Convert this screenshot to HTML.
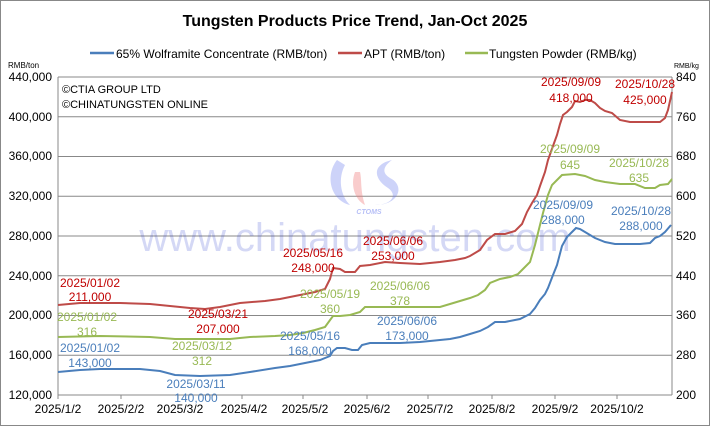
<!DOCTYPE html>
<html><head><meta charset="utf-8"><style>
body{margin:0;background:#fff}
svg{display:block}
text{font-family:"Liberation Sans",sans-serif}
</style></head><body>
<svg width="710" height="426" viewBox="0 0 710 426" xmlns="http://www.w3.org/2000/svg">
<rect x="0.5" y="0.5" width="709" height="425" fill="#fff" stroke="#888"/>
<text x="355" y="26" text-anchor="middle" font-size="16" font-weight="bold">Tungsten Products Price Trend, Jan-Oct 2025</text>
<line x1="90" y1="53" x2="114" y2="53" stroke="#4a7ebb" stroke-width="2.5"/>
<text x="116" y="58" font-size="12">65% Wolframite Concentrate (RMB/ton)</text>
<line x1="338" y1="53" x2="362" y2="53" stroke="#be4b48" stroke-width="2.5"/>
<text x="364" y="58" font-size="12">APT (RMB/ton)</text>
<line x1="465" y1="53" x2="488" y2="53" stroke="#98b954" stroke-width="2.5"/>
<text x="489" y="58" font-size="12">Tungsten Powder (RMB/kg)</text>
<text x="8" y="68" font-size="8" font-family="Liberation Mono">RMB/ton</text>
<text x="674" y="68" font-size="7" font-family="Liberation Mono">RMB/kg</text>
<g stroke="#888" stroke-width="1">
<line x1="58" y1="77" x2="672" y2="77"/><line x1="58" y1="116.7" x2="672" y2="116.7"/>
<line x1="58" y1="156.5" x2="672" y2="156.5"/><line x1="58" y1="196.2" x2="672" y2="196.2"/>
<line x1="58" y1="236" x2="672" y2="236"/><line x1="58" y1="275.7" x2="672" y2="275.7"/>
<line x1="58" y1="315.5" x2="672" y2="315.5"/><line x1="58" y1="355.2" x2="672" y2="355.2"/>
<line x1="58" y1="395" x2="672" y2="395"/>
<line x1="58" y1="77" x2="58" y2="395"/><line x1="672" y1="77" x2="672" y2="395"/>
</g>
<g stroke="#888"><line x1="121" y1="395" x2="121" y2="399"/><line x1="178" y1="395" x2="178" y2="399"/><line x1="242" y1="395" x2="242" y2="399"/><line x1="303" y1="395" x2="303" y2="399"/><line x1="367" y1="395" x2="367" y2="399"/><line x1="428" y1="395" x2="428" y2="399"/><line x1="492" y1="395" x2="492" y2="399"/><line x1="555" y1="395" x2="555" y2="399"/><line x1="617" y1="395" x2="617" y2="399"/><line x1="58" y1="395" x2="58" y2="399"/></g>
<g font-size="12" text-anchor="end">
<text x="52" y="81">440,000</text><text x="52" y="121">400,000</text><text x="52" y="160">360,000</text>
<text x="52" y="200">320,000</text><text x="52" y="240">280,000</text><text x="52" y="280">240,000</text>
<text x="52" y="319">200,000</text><text x="52" y="359">160,000</text><text x="52" y="399">120,000</text>
</g>
<g font-size="12">
<text x="676" y="81">840</text><text x="676" y="121">760</text><text x="676" y="160">680</text>
<text x="676" y="200">600</text><text x="676" y="240">520</text><text x="676" y="280">440</text>
<text x="676" y="319">360</text><text x="676" y="359">280</text><text x="676" y="399">200</text>
</g>
<g font-size="12" text-anchor="middle">
<text x="58" y="413">2025/1/2</text><text x="121" y="413">2025/2/2</text><text x="180" y="413">2025/3/2</text>
<text x="244" y="413">2025/4/2</text><text x="305" y="413">2025/5/2</text><text x="367" y="413">2025/6/2</text>
<text x="430" y="413">2025/7/2</text><text x="492" y="413">2025/8/2</text><text x="555" y="413">2025/9/2</text>
<text x="617" y="413">2025/10/2</text>
</g>
<text x="62" y="93" font-size="11">©CTIA GROUP LTD</text>
<text x="62" y="108" font-size="11">©CHINATUNGSTEN ONLINE</text>
<text x="355" y="251" text-anchor="middle" font-size="40" font-family="Liberation Serif" fill="#3040d0" opacity="0.2">www.chinatungsten.com</text>
<path d="M337 160 C325 175 330 200 350 205 C340 195 338 178 345 165Z" fill="#7080ee" opacity="0.35"/>
<path d="M355 172 C350 185 355 200 365 205 C360 190 362 180 360 172Z" fill="#f08080" opacity="0.4"/>
<path d="M392 160 C370 165 375 180 388 188 C398 195 392 205 375 205 C400 205 405 185 390 178 C380 172 385 165 392 160Z" fill="#7080ee" opacity="0.35"/>
<text x="369" y="214" text-anchor="middle" font-size="7" font-weight="bold" font-style="italic" fill="#7080ee" opacity="0.5">CTOMS</text>
<polyline fill="none" stroke="#4a7ebb" stroke-width="2" points="58,372 80,370 100,369 140,369 160,371 175,375 200,376 230,375 250,372 275,368 290,366 300,364 310,362 320,360 330,356 333,351 337,348 345,348 352,350 358,350 362,345 370,343 400,343 420,342 440,340 450,339 460,337 470,334 480,331 488,327 495,322 505,322 520,319 530,314 535,308 540,300 545,294 548,288 553,275 557,265 562,246 567,237 572,232 576,228 580,229 585,232 595,238 605,242 615,244 640,244 650,243 655,238 660,236 665,232 671,225"/>
<polyline fill="none" stroke="#be4b48" stroke-width="2" points="58,305 80,303 120,303 150,304 170,306 190,308 205,309 220,307 240,303 265,301 280,299 295,296 305,294 315,292 325,289 330,279 333,268 340,269 345,272 355,272 360,266 370,265 385,262 400,263 420,264 440,262 455,260 465,258 470,256 480,250 487,240 495,234 505,234 515,231 522,224 527,212 532,203 537,195 540,186 545,172 548,160 553,146 557,135 560,124 563,115 567,112 572,107 575,101 580,102 585,100 590,100 595,103 600,108 605,111 612,113 620,120 630,122 660,122 665,118 668,110 672,92"/>
<polyline fill="none" stroke="#98b954" stroke-width="2" points="58,337 100,336 150,337 175,339 200,339 230,339 250,337 275,336 290,335 303,333 315,330 325,327 333,316 340,316 350,315 360,312 365,307 400,307 440,307 450,304 460,301 470,298 478,295 485,290 490,283 500,279 510,277 518,274 522,270 530,262 535,245 540,225 543,213 548,195 552,185 557,180 562,175 575,174 585,176 595,180 605,182 620,184 635,184 645,188 655,188 660,185 668,184 672,179"/>
<g font-size="12" text-anchor="middle" fill="#c00000">
<text x="90" y="287">2025/01/02</text><text x="90" y="301">211,000</text>
<text x="218" y="318">2025/03/21</text><text x="218" y="333">207,000</text>
<text x="313" y="257">2025/05/16</text><text x="313" y="272">248,000</text>
<text x="393" y="245">2025/06/06</text><text x="393" y="260">253,000</text>
<text x="571" y="86">2025/09/09</text><text x="571" y="102">418,000</text>
<text x="645" y="88">2025/10/28</text><text x="645" y="104">425,000</text>
</g>
<g font-size="12" text-anchor="middle" fill="#98b954">
<text x="87" y="321">2025/01/02</text><text x="87" y="336">316</text>
<text x="202" y="350">2025/03/12</text><text x="202" y="365">312</text>
<text x="330" y="298">2025/05/19</text><text x="330" y="313">360</text>
<text x="400" y="290">2025/06/06</text><text x="400" y="305">378</text>
<text x="570" y="153">2025/09/09</text><text x="570" y="169">645</text>
<text x="639" y="167">2025/10/28</text><text x="639" y="182">635</text>
</g>
<g font-size="12" text-anchor="middle" fill="#4a7ebb">
<text x="90" y="352">2025/01/02</text><text x="90" y="367">143,000</text>
<text x="196" y="388">2025/03/11</text><text x="196" y="402">140,000</text>
<text x="310" y="340">2025/05/16</text><text x="310" y="355">168,000</text>
<text x="407" y="325">2025/06/06</text><text x="407" y="340">173,000</text>
<text x="563" y="209">2025/09/09</text><text x="563" y="224">288,000</text>
<text x="641" y="215">2025/10/28</text><text x="641" y="230">288,000</text>
</g>
</svg>
</body></html>
